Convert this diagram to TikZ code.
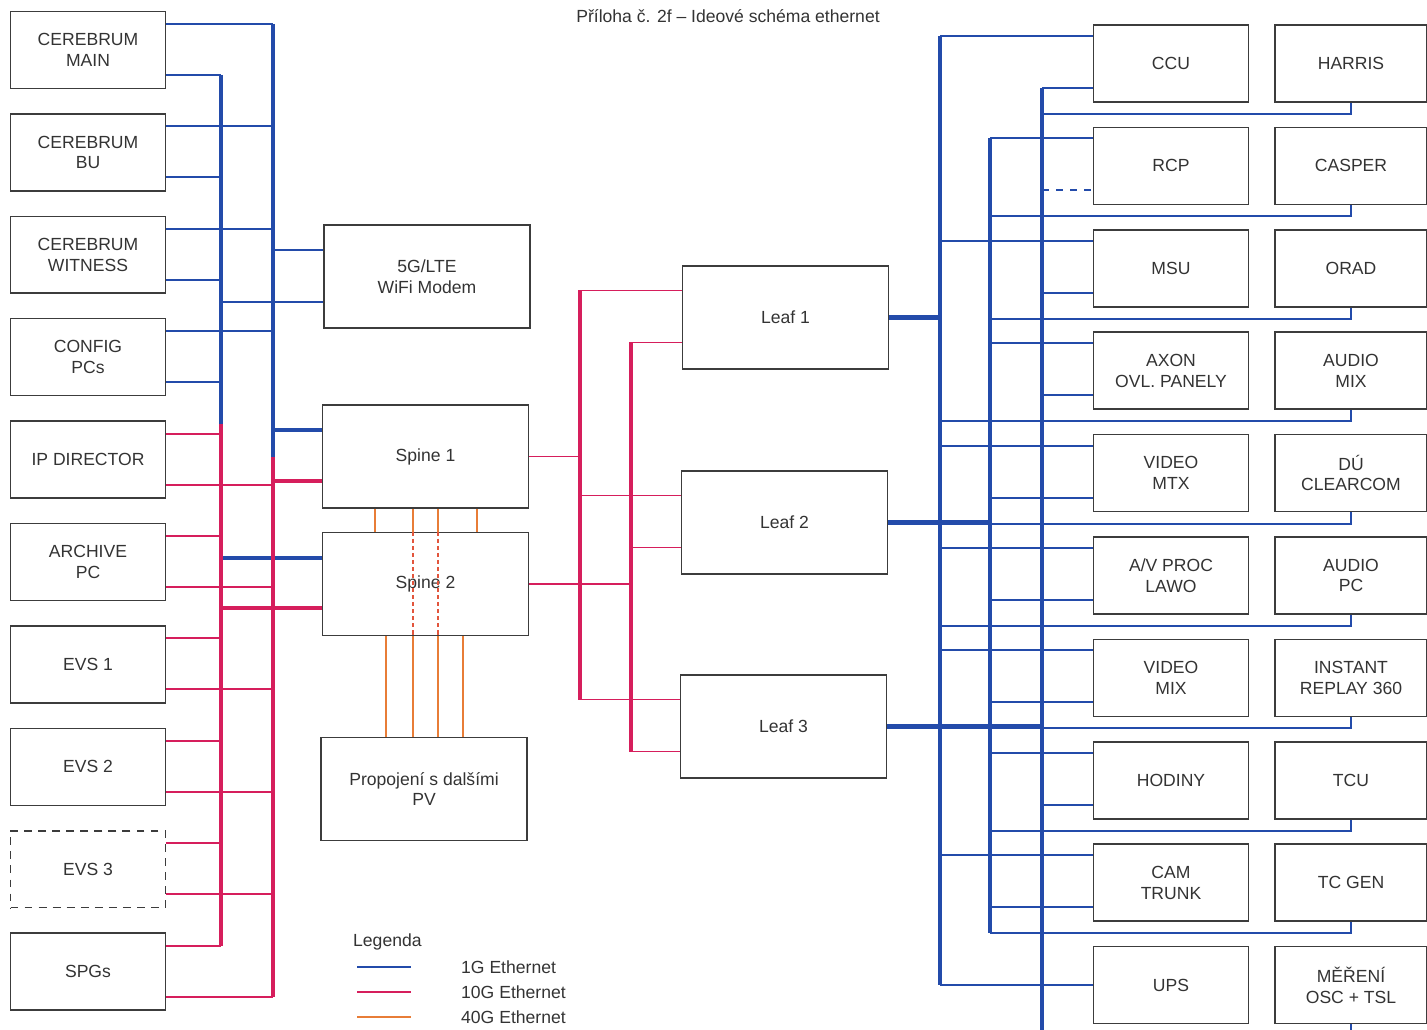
\documentclass[tikz,border=0pt]{standalone}
\usepackage{fontspec}
\setmainfont{Liberation Sans}
\usepackage{xcolor}
\usepackage{tikz}

\definecolor{eth1}{RGB}{35,75,170}
\definecolor{eth10}{RGB}{214,30,92}
\definecolor{eth40}{RGB}{232,125,55}
\definecolor{eth40d}{RGB}{226,85,60}
\definecolor{boxline}{RGB}{60,60,60}

\begin{document}
\begin{tikzpicture}[x=0.02cm, y=-0.02cm,
  every node/.style={font=\fontsize{10}{11.8}\selectfont, text=black!80},
  box/.style={draw=boxline, line width=0.9pt, minimum width=3.1cm, minimum height=1.54cm, align=center, inner sep=0pt},
  bigbox/.style={box, minimum width=4.12cm, minimum height=2.06cm},
  w1/.style={eth1, line width=1.1pt},
  w10/.style={eth10, line width=1.1pt},
  w40/.style={eth40, line width=1.1pt},
  bus1/.style={eth1, line width=2.8pt},
  bus10/.style={eth10, line width=2.8pt}]
\useasboundingbox (0,0) rectangle (1427,1030);
\node (title) at (728,16) {Příloha č. 2f – Ideové schéma ethernet};

% Left column
\node[box] (cmain) at (88,50)    {CEREBRUM\\MAIN};
\node[box] (cbu)   at (88,152.4) {CEREBRUM\\BU};
\node[box] (cwit)  at (88,254.8) {CEREBRUM\\WITNESS};
\node[box] (cfg)   at (88,357.2) {CONFIG\\PCs};
\node[box] (ipdir) at (88,459.6) {IP DIRECTOR};
\node[box] (arch)  at (88,562)   {ARCHIVE\\PC};
\node[box] (evs1)  at (88,664.4) {EVS 1};
\node[box] (evs2)  at (88,766.8) {EVS 2};
\node[box, dash pattern=on 4.5pt off 3.5pt] (evs3) at (88,869.2) {EVS 3};
\node[box] (spg)   at (88,971.6) {SPGs};

% Two left buses (inner / outer)
\coordinate (bi) at (221,0);
\coordinate (bo) at (273,0);
\foreach \n/\c in {cmain/50,cbu/152.4,cwit/254.8,cfg/357.2}{
  \pgfmathsetmacro\ya{\c-26}\pgfmathsetmacro\yb{\c+25}
  \draw[w1] (\n.east |- 0,\ya) -- (bo |- 0,\ya);
  \draw[w1] (\n.east |- 0,\yb) -- (bi |- 0,\yb);
}
\foreach \n/\c in {ipdir/459.6,arch/562,evs1/664.4,evs2/766.8,evs3/869.2,spg/971.6}{
  \pgfmathsetmacro\ya{\c-26}\pgfmathsetmacro\yb{\c+25}
  \draw[w10] (\n.east |- 0,\ya) -- (bi |- 0,\ya);
  \draw[w10] (\n.east |- 0,\yb) -- (bo |- 0,\yb);
}

% Centre: modem, spines, interconnect
\node[bigbox] (modem)  at (427,276.5) {5G/LTE\\WiFi Modem};
\node[bigbox] (spine1) at (425.5,456.5) {Spine 1};
\node[bigbox] (spine2) at (425.5,584) {Spine 2};
\node[bigbox] (prop)   at (424,789) {Propojení s dalšími\\PV};

\draw[w1] (bo |- 0,250) -- (modem.west |- 0,250);
\draw[w1] (bi |- 0,302) -- (modem.west |- 0,302);
\draw[bus1]  (bo |- 0,430) -- (spine1.west |- 0,430);
\draw[bus10] (bo |- 0,481) -- (spine1.west |- 0,481);
\draw[bus1]  (bi |- 0,558) -- (spine2.west |- 0,558);
\draw[bus10] (bi |- 0,608) -- (spine2.west |- 0,608);

\draw[bus1]  (bi |- 0,75) -- (bi |- 0,424);
\draw[bus10] (bi |- 0,424) -- (bi |- 0,945.6);
\draw[bus1]  (bo |- 0,24) -- (bo |- 0,457);
\draw[bus10] (bo |- 0,457) -- (bo |- 0,996.6);

% 40G links
\foreach \x in {375,413,438,477}
  \draw[w40] (spine1.south -| \x,0) -- (spine2.north -| \x,0);
\foreach \x in {413,438}
  \draw[eth40d, line width=0.8pt, dash pattern=on 2.5pt off 1.5pt] (spine2.north -| \x,0) -- (spine2.south -| \x,0);
\foreach \x in {386,413,438,463}
  \draw[w40] (spine2.south -| \x,0) -- (prop.north -| \x,0);

% Leaves
\node[bigbox] (leaf1) at (785.5,317.5) {Leaf 1};
\node[bigbox] (leaf2) at (784.5,522.5) {Leaf 2};
\node[bigbox] (leaf3) at (783.5,726.5) {Leaf 3};

\coordinate (la) at (580,0);
\coordinate (lb) at (631,0);
\draw[w10] (spine1.east) -- (la |- spine1.east);
\draw[w10] (spine2.east) -- (lb |- spine2.east);
\foreach \n/\c in {leaf1/317.5,leaf2/522.5,leaf3/726.5}{
  \pgfmathsetmacro\ya{\c-27}\pgfmathsetmacro\yb{\c+25}
  \draw[w10] (la |- 0,\ya) -- (\n.west |- 0,\ya);
  \draw[w10] (lb |- 0,\yb) -- (\n.west |- 0,\yb);
}
\draw[bus10] (la |- 0,290.5) -- (la |- 0,699.5);
\draw[bus10] (lb |- 0,342.5) -- (lb |- 0,751.5);

% Right side devices
\begin{scope}[box/.append style={minimum width=3.1cm}]
\node[box] (ccu)    at (1171,63.5)  {CCU};
\node[box] (rcp)    at (1171,165.9) {RCP};
\node[box] (msu)    at (1171,268.3) {MSU};
\node[box] (axon)   at (1171,370.7) {AXON\\OVL. PANELY};
\node[box] (vmtx)   at (1171,473.1) {VIDEO\\MTX};
\node[box] (lawo)   at (1171,575.5) {A/V PROC\\LAWO};
\node[box] (vmix)   at (1171,677.9) {VIDEO\\MIX};
\node[box] (hodiny) at (1171,780.3) {HODINY};
\node[box] (trunk)  at (1171,882.7) {CAM\\TRUNK};
\node[box] (ups)    at (1171,985.1) {UPS};
\end{scope}
\begin{scope}[box/.append style={minimum width=3.04cm}]
\node[box] (harris) at (1351,63.5)  {HARRIS};
\node[box] (casper) at (1351,165.9) {CASPER};
\node[box] (orad)   at (1351,268.3) {ORAD};
\node[box] (amix)   at (1351,370.7) {AUDIO\\MIX};
\node[box] (clear)  at (1351,473.1) {DÚ\\CLEARCOM};
\node[box] (apc)    at (1351,575.5) {AUDIO\\PC};
\node[box] (replay) at (1351,677.9) {INSTANT\\REPLAY 360};
\node[box] (tcu)    at (1351,780.3) {TCU};
\node[box] (tcgen)  at (1351,882.7) {TC GEN};
\node[box] (mereni) at (1351,985.1) {MĚŘENÍ\\OSC + TSL};
\end{scope}

% Three right buses
\coordinate (r1) at (940,0);
\coordinate (r2) at (990,0);
\coordinate (r3) at (1042,0);
\foreach \n/\c/\b in {ccu/63.5/r1,rcp/165.9/r2,msu/268.3/r1,axon/370.7/r2,vmtx/473.1/r1,lawo/575.5/r1,vmix/677.9/r1,hodiny/780.3/r2,trunk/882.7/r1}{
  \pgfmathsetmacro\y{\c-27.5}
  \draw[w1] (\b |- 0,\y) -- (\n.west |- 0,\y);
}
\foreach \n/\c/\b in {ccu/63.5/r3,msu/268.3/r3,axon/370.7/r3,vmtx/473.1/r2,lawo/575.5/r2,vmix/677.9/r2,hodiny/780.3/r3,trunk/882.7/r2}{
  \pgfmathsetmacro\y{\c+24.5}
  \draw[w1] (\b |- 0,\y) -- (\n.west |- 0,\y);
}
\draw[w1, dash pattern=on 4pt off 4pt] (r3 |- 0,190.4) -- (rcp.west |- 0,190.4);
\foreach \n/\c/\b in {harris/63.5/r3,casper/165.9/r2,orad/268.3/r2,amix/370.7/r1,clear/473.1/r2,apc/575.5/r1,replay/677.9/r3,tcu/780.3/r2,tcgen/882.7/r2}{
  \pgfmathsetmacro\y{\c+50.5}
  \draw[w1] (\n.south) |- (\b |- 0,\y);
}
\draw[w1] (r1 |- ups.west) -- (ups.west);
\draw[w1] (mereni.south) -- ++(0,7);

\draw[bus1] (leaf1.east) -- (r1 |- leaf1.east);
\draw[bus1] (leaf2.east) -- (r2 |- leaf2.east);
\draw[bus1] (leaf3.east) -- (r3 |- leaf3.east);
\draw[bus1] (r1 |- 0,36) -- (r1 |- 0,985.1);
\draw[bus1] (r2 |- 0,138.4) -- (r2 |- 0,933.2);
\draw[bus1] (r3 |- 0,88) -- (r3 |- 0,1030);

% Legend
\node[anchor=west] (leg) at (347,942) {Legenda};
\node[anchor=west] (l1)  at (455,967) {1G Ethernet};
\node[anchor=west] (l10) at (455,992) {10G Ethernet};
\node[anchor=west] (l40) at (455,1017) {40G Ethernet};
\draw[w1]  (l1.west -| 357,0)  -- (l1.west -| 411,0);
\draw[w10] (l10.west -| 357,0) -- (l10.west -| 411,0);
\draw[w40] (l40.west -| 357,0) -- (l40.west -| 411,0);
\end{tikzpicture}
\end{document}
